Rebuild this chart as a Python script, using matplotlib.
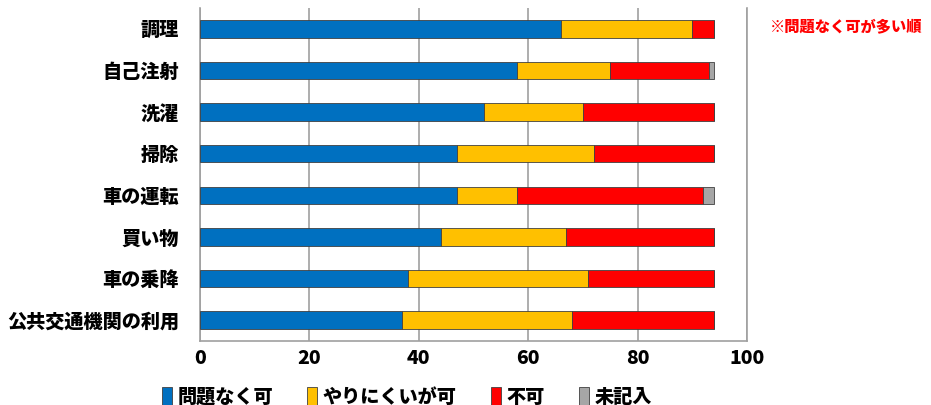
import matplotlib
matplotlib.use('Agg')
import matplotlib.pyplot as plt
import numpy as np

plt.rcParams['font.family'] = ['Noto Sans CJK JP', 'DejaVu Sans']

categories = ['調理', '自己注射', '洗濯', '掃除', '車の運転', '買い物', '車の乗降', '公共交通機関の利用']
ok = [66, 58, 52, 47, 47, 44, 38, 37]          # 問題なく可
hard = [24, 17, 18, 25, 11, 23, 33, 31]        # やりにくいが可
ng = [4, 18, 24, 22, 34, 27, 23, 26]           # 不可
blank = [0, 1, 0, 0, 2, 0, 0, 0]               # 未記入
series_names = ['問題なく可', 'やりにくいが可', '不可', '未記入']
colors = ['#0070C0', '#FFC000', '#FF0000', '#A6A6A6']
xticks = [0, 20, 40, 60, 80, 100]

fig = plt.figure(figsize=(9.31, 4.05), dpi=100)
ax = fig.add_axes([200/931, 64/405, 547/931, 333/405])

y = np.arange(len(categories))
left = np.zeros(len(categories))
for vals, name, col in zip([ok, hard, ng, blank], series_names, colors):
    ax.barh(y, vals, left=left, height=0.42, color=col, edgecolor='#404040',
            linewidth=0.6, label=name, zorder=3)
    left += np.array(vals)

ax.set_xlim(0, 100)
ax.set_ylim(len(categories) - 0.5, -0.5)
ax.set_yticks(y)
ax.set_yticklabels(categories, fontsize=13.8, fontweight='black')
ax.set_xticks(xticks)
ax.set_xticklabels([str(v) for v in xticks], fontsize=14, fontweight='black')
ax.tick_params(axis='y', length=0, pad=15)
ax.tick_params(axis='x', length=0, pad=6)
ax.grid(axis='x', color='#A0A0A0', linewidth=1.2, zorder=0)
ax.spines['top'].set_visible(False)
for s in ['left', 'right', 'bottom']:
    ax.spines[s].set_color('#A0A0A0')
    ax.spines[s].set_linewidth(1.2)

fig.text(770/931, 1 - 27/405, '※問題なく可が多い順', color='#FF0000', fontsize=11,
         fontweight='black', ha='left', va='center')

fig.legend(loc='center', bbox_to_anchor=(407/931, 1 - 397/405), ncol=4, frameon=False,
           prop={'size': 13.8, 'weight': 'black'}, handlelength=0.5, handleheight=1.0,
           handletextpad=0.3, columnspacing=1.8)

fig.savefig('out.png', dpi=100)
